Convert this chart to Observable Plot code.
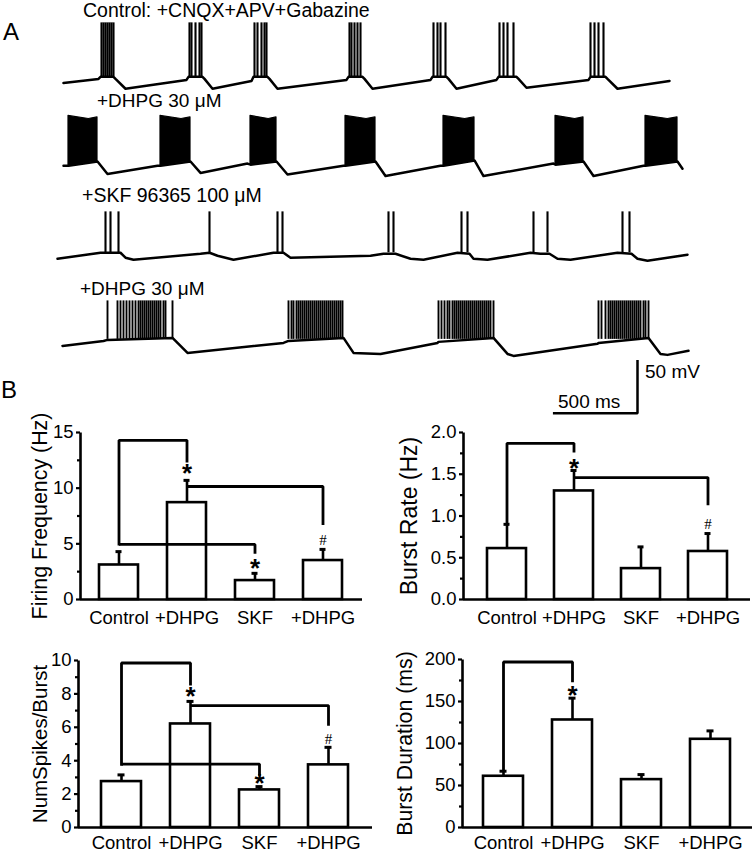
<!DOCTYPE html>
<html><head><meta charset="utf-8">
<script src="https://cdn.jsdelivr.net/npm/d3@7"></script>
<script src="https://cdn.jsdelivr.net/npm/@observablehq/plot@0.6"></script>
<style>
body{margin:0;background:#fff;}
#fig{position:relative;width:752px;height:853px;overflow:hidden;background:#fff;font-family:Arial,"Liberation Sans",Helvetica,sans-serif;color:#000;}
#fig svg{position:absolute;overflow:visible;}
.lbl{position:absolute;line-height:0.8;white-space:nowrap;}
</style></head><body><div id="fig"></div>
<script>
// ---------------- Panel A: membrane potential traces (time in ms, potential in mV, spike peak ~0 mV)
const traceLabels = ["Control: +CNQX+APV+Gabazine", "+DHPG 30 \u03BCM", "+SKF 96365 100 \u03BCM", "+DHPG 30 \u03BCM"];

const ctrlBaseline = [[18,-58],[228,-54],[240,-52],[318,-52],[330,-54],[390,-63.5],[756,-55],[768,-52],[852,-52],[864,-54],[912,-63.5],[1146,-56],[1158,-52],[1242,-52],[1254,-54],[1302,-63.5],[1716,-55],[1728,-52],[1812,-52],[1824,-54],[1872,-63.5],[2220,-55],[2232,-52],[2316,-52],[2328,-54],[2376,-63.5],[2616,-55],[2628,-52],[2736,-52],[2748,-54],[2796,-62.5],[3168,-55],[3180,-52],[3270,-52],[3282,-54],[3342,-63.5],[3654,-56]];
const ctrlSpikes = [[246,258,270,282,294,306,318],[774,786,810,834,846],[1164,1182,1206,1224,1236],[1734,1746,1764,1782,1800],[2238,2262,2280,2310],[2634,2658,2682,2718],[3180,3204,3228,3258]];
const ctrlSpikeBase = -52;

const dhpgBaseline = [[18,-48],[48,-48],[222,-44],[282,-56],[582,-48],[600,-48],[780,-44],[840,-55],[1122,-46],[1140,-47],[1296,-44],[1362,-56.5],[1698,-48],[1710,-48],[1890,-44],[1950,-58],[2280,-48],[2298,-48],[2484,-43],[2538,-58],[2958,-46],[2970,-47],[3138,-44],[3198,-58],[3498,-48],[3510,-48],[3702,-44],[3732,-51]];
// dense burst envelopes: [time, trough, peak]
const dhpgBursts = [
  [[48,-48,0],[170,-45,-3],[222,-44,-1.5]],
  [[600,-48,0],[726,-45,-3],[780,-44,-1.5]],
  [[1140,-47,0],[1249,-45,-3],[1296,-44,-1.5]],
  [[1710,-48,0],[1836,-45,-3],[1890,-44,-1.5]],
  [[2298,-48,0],[2428,-45,-3],[2484,-43,-1.5]],
  [[2970,-47,0],[3088,-45,-3],[3138,-44,-1.5]],
  [[3510,-48,0],[3644,-45,-3],[3702,-44,-1.5]]
];

const skfBaseline = [[-18,-45.2],[240,-39.4],[360,-39.4],[390,-44.2],[438,-46.2],[840,-40.4],[894,-39.4],[942,-42.3],[1038,-46.2],[1278,-39.4],[1338,-39.4],[1380,-44.2],[1860,-42.3],[1938,-40.4],[2010,-40.4],[2100,-45.2],[2178,-46.2],[2382,-39.4],[2454,-40.4],[2478,-45.2],[2562,-46.2],[2820,-39.4],[2880,-40.4],[2934,-40.4],[2982,-45.2],[3060,-46.2],[3342,-39.4],[3426,-40.4],[3462,-45.2],[3522,-47.1],[3762,-41.3]];
const skfSpikes = [[270,300,348],[894],[1302,1332],[1968,1998],[2406,2442],[2838,2922],[3372,3414]];
const skfSpikeBase = -39.4;

const dhpg2Baseline = [[12,-43.3],[258,-38.5],[282,-37.5],[672,-35.6],[762,-50],[1338,-40.4],[1368,-38.5],[1698,-35.6],[1758,-50],[1920,-51],[2262,-40.4],[2268,-39.4],[2598,-35.6],[2682,-51],[2718,-52.9],[3222,-41.3],[3228,-40.4],[3528,-35.6],[3600,-51],[3642,-51.9],[3768,-48]];
const dhpg2Spikes = [
  [282,342,360,378,396,414,432,450,468,480,492,504,516,528,540,552,564,576,588,600,618,630,672],
  [1368,1386,1398,1416,1428,1440,1452,1464,1476,1488,1500,1512,1524,1536,1548,1560,1572,1584,1596,1608,1620,1632,1644,1656,1668,1680,1692],
  [2268,2286,2304,2322,2334,2352,2364,2376,2388,2400,2412,2424,2436,2448,2460,2472,2484,2496,2508,2520,2532,2544,2556,2568,2580,2598],
  [3228,3246,3270,3288,3300,3312,3324,3336,3348,3360,3372,3384,3396,3408,3420,3432,3444,3456,3468,3480,3498,3510,3528]
];
const dhpg2SpikeBase = -37;

const scaleBar = {t: 3462, v: -108, ms: 500, mV: 50};
const scaleLabels = ["50 mV", "500 ms"];

// ---------------- Panel B: bar charts (mean + SEM)
const groups = ["Control", "+DHPG", "SKF", "+DHPG"];
const firingMean = [3.1, 8.7, 1.7, 3.5];
const firingSem = [1.2, 2.0, 0.65, 1.0];
const burstRateMean = [0.61, 1.30, 0.37, 0.575];
const burstRateSem = [0.29, 0.245, 0.26, 0.215];
const spikesMean = [2.75, 6.2, 2.25, 3.75];
const spikesSem = [0.4, 1.35, 0.2, 1.05];
const durationMean = [61, 128, 57, 105];
const durationSem = [6, 26, 6, 10];

// significance brackets: from group a (leg from ya) to group b (leg down to yb) at height top
const firingBrackets = [{a:0,b:1,ya:4.85,top:14.3,yb:12.3},{a:1,b:3,ya:10.15,top:10.15,yb:6.7},{a:0,b:2,ya:4.95,top:4.95,yb:4.1}];
const firingSig = [{i:1,y:11.8,s:"*"},{i:2,y:3.3,s:"*"},{i:3,y:5.3,s:"#"}];
const burstRateBrackets = [{a:0,b:1,ya:0.9,top:1.87,yb:1.76},{a:1,b:3,ya:1.46,top:1.46,yb:1.13}];
const burstRateSig = [{i:1,y:1.64,s:"*"},{i:3,y:0.9,s:"#"}];
const spikesBrackets = [{a:0,b:1,ya:3.7,top:9.85,yb:8.5},{a:1,b:3,ya:7.3,top:7.3,yb:6.1},{a:0,b:2,ya:3.8,top:3.8,yb:3.1}];
const spikesSig = [{i:1,y:8.2,s:"*"},{i:2,y:3.0,s:"*"},{i:3,y:5.3,s:"#"}];
const durationBrackets = [{a:0,b:1,ya:68,top:197,yb:173}];
const durationSig = [{i:1,y:164,s:"*"}];

const FONT = 'Arial, "Liberation Sans", Helvetica, sans-serif';
const fig = document.getElementById("fig");

function place(el, left, top) { el.style.left = left + "px"; el.style.top = top + "px"; fig.appendChild(el); }
function label(text, x, baseline, size) {
  const d = document.createElement("div");
  d.className = "lbl";
  d.textContent = text;
  d.style.fontSize = size + "px";
  d.style.left = x + "px";
  d.style.top = (baseline - 0.7465 * size) + "px";
  fig.appendChild(d);
}

// ---- traces
function spikeRows(groupsOfTimes, base) {
  return groupsOfTimes.flatMap(g => g.map(t => ({t, base})));
}
function tracePlot(marks, ymin) {
  return Plot.plot({
    width: 700, height: Math.round((10 - ymin) * 1.04), margin: 0,
    x: {domain: [-60, 4140], axis: null},
    y: {domain: [ymin, 10], axis: null},
    style: {background: "transparent"},
    marks
  });
}
const baseLine = data => Plot.line(data, {x: d => d[0], y: d => d[1], stroke: "black", strokeWidth: 2.5, strokeLinejoin: "round"});
const spikeMark = (data, w) => Plot.ruleX(data, {x: "t", y1: "base", y2: () => 0, stroke: "black", strokeWidth: w});

place(tracePlot([baseLine(ctrlBaseline), spikeMark(spikeRows(ctrlSpikes, ctrlSpikeBase), 2.1)], -70), 50, 11.6);

const blockPts = dhpgBursts.flatMap((b, k) => b.map(p => ({k, t: p[0], lo: p[1], hi: p[2]})));
place(tracePlot([
  baseLine(dhpgBaseline),
  Plot.areaY(blockPts, {x: "t", y1: "lo", y2: "hi", z: "k", fill: "black", stroke: "black", strokeWidth: 1.2})
], -70), 50, 104.6);

place(tracePlot([baseLine(skfBaseline), spikeMark(spikeRows(skfSpikes, skfSpikeBase), 2.1)], -70), 50, 200.6);

const sb = [[scaleBar.t - scaleBar.ms, scaleBar.v], [scaleBar.t, scaleBar.v], [scaleBar.t, scaleBar.v + scaleBar.mV]];
place(tracePlot([
  baseLine(dhpg2Baseline),
  spikeMark(spikeRows(dhpg2Spikes, dhpg2SpikeBase), 1.9),
  Plot.line(sb, {x: d => d[0], y: d => d[1], stroke: "black", strokeWidth: 2.5, strokeLinejoin: "miter", strokeLinecap: "square"})
], -115), 50, 289.6);

label("A", 3, 40, 24);
label("B", 1, 398, 24);
label(traceLabels[0], 83, 17.8, 19.5);
label(traceLabels[1], 97, 107, 19);
label(traceLabels[2], 82, 203, 19.5);
label(traceLabels[3], 80, 295, 19);
label(scaleLabels[0], 645, 378, 19);
label(scaleLabels[1], 558, 408, 19);

// ---- bar charts
function barChart(o) {
  const rows = groups.map((g, i) => ({i, mean: o.mean[i], sem: o.sem[i]}));
  const br = o.brackets.flatMap((b, k) => [
    {k, i: b.a, y: b.ya}, {k, i: b.a, y: b.top}, {k, i: b.b, y: b.top}, {k, i: b.b, y: b.yb}
  ]);
  const stars = o.sig.filter(d => d.s === "*");
  const hashes = o.sig.filter(d => d.s === "#");
  const fw = o.width - o.mL - o.mR, fh = o.height - o.mT - o.mB;
  return Plot.plot({
    width: o.width, height: o.height,
    marginLeft: o.mL, marginRight: o.mR, marginTop: o.mT, marginBottom: o.mB,
    style: {background: "transparent", fontFamily: FONT, fontSize: "18.5px", color: "black"},
    x: {type: "band", domain: [0, 1, 2, 3], paddingInner: 0.42, paddingOuter: o.padOuter},
    y: {domain: [0, o.yMax]},
    marks: [
      // left axis line: only the left side of the frame is stroked
      Plot.frame({stroke: "black", strokeWidth: 2.6, strokeDasharray: `0 ${2 * fw + fh} ${fh}`}),
      Plot.ruleY([0], {stroke: "black", strokeWidth: 2.6}),
      Plot.barY(rows, {x: "i", y: "mean", fill: "white", stroke: "black", strokeWidth: 2.6}),
      Plot.ruleX(rows, {x: "i", y1: "mean", y2: d => d.mean + d.sem, stroke: "black", strokeWidth: 2.6}),
      Plot.tickY(rows, {x: "i", y: d => d.mean + d.sem, stroke: "black", strokeWidth: 3, insetLeft: 16.5, insetRight: 16.5}),
      Plot.line(br, {x: "i", y: "y", z: "k", stroke: "black", strokeWidth: 2.8, strokeLinejoin: "miter", strokeLinecap: "butt"}),
      Plot.text(stars, {x: "i", y: "y", text: "s", fontSize: 26, fontWeight: "bold", dy: 6}),
      Plot.text(hashes, {x: "i", y: "y", text: "s", fontSize: 15, fontFamily: '"Liberation Serif", "Times New Roman", serif'}),
      Plot.axisY({ticks: o.major, tickSize: 4, tickPadding: 3, strokeWidth: 2.2, label: null, tickFormat: o.fmt, fontSize: 18.5, fontFamily: FONT}),
      Plot.axisY({ticks: o.minor, tickSize: 3, strokeWidth: 2.2, label: null, tickFormat: () => ""}),
      Plot.axisX({tickSize: 0, tickPadding: o.xPad, label: null, tickFormat: i => groups[i], fontSize: 18.5, fontFamily: FONT}),
      Plot.text([o.ylabel], {frameAnchor: "left", rotate: -90, textAnchor: "middle", dx: o.ylabelDx, fontSize: o.ylabelSize, fontFamily: FONT, text: d => d})
    ]
  });
}

place(barChart({
  mean: firingMean, sem: firingSem, yMax: 15, major: [0, 5, 10, 15], minor: [2.5, 7.5, 12.5], fmt: d => d,
  brackets: firingBrackets, sig: firingSig, ylabel: "Firing Frequency (Hz)", ylabelSize: 21.4, ylabelDx: -40,
  width: 380, height: 232, mL: 80, mR: 18, mT: 32, mB: 33, padOuter: 0.27, xPad: 11
}), 0, 400);

place(barChart({
  mean: burstRateMean, sem: burstRateSem, yMax: 2, major: [0, 0.5, 1, 1.5, 2], minor: [0.25, 0.75, 1.25, 1.75], fmt: d3.format(".1f"),
  brackets: burstRateBrackets, sig: burstRateSig, ylabel: "Burst Rate (Hz)", ylabelSize: 23, ylabelDx: -53.5,
  width: 376, height: 232, mL: 87, mR: 2, mT: 32, mB: 33, padOuter: 0.34, xPad: 11
}), 376, 400);

place(barChart({
  mean: spikesMean, sem: spikesSem, yMax: 10, major: [0, 2, 4, 6, 8, 10], minor: [1, 3, 5, 7, 9], fmt: d => d,
  brackets: spikesBrackets, sig: spikesSig, ylabel: "NumSpikes/Burst", ylabelSize: 20.5, ylabelDx: -38,
  width: 380, height: 223, mL: 78, mR: 8, mT: 30, mB: 26, padOuter: 0.33, xPad: 8
}), 0, 630);

place(barChart({
  mean: durationMean, sem: durationSem, yMax: 200, major: [0, 50, 100, 150, 200], minor: [25, 75, 125, 175], fmt: d => d,
  brackets: durationBrackets, sig: durationSig, ylabel: "Burst Duration (ms)", ylabelSize: 21.3, ylabelDx: -57,
  width: 376, height: 223, mL: 86, mR: 0, mT: 29, mB: 26, padOuter: 0.31, xPad: 8
}), 376, 630);
</script></body></html>
